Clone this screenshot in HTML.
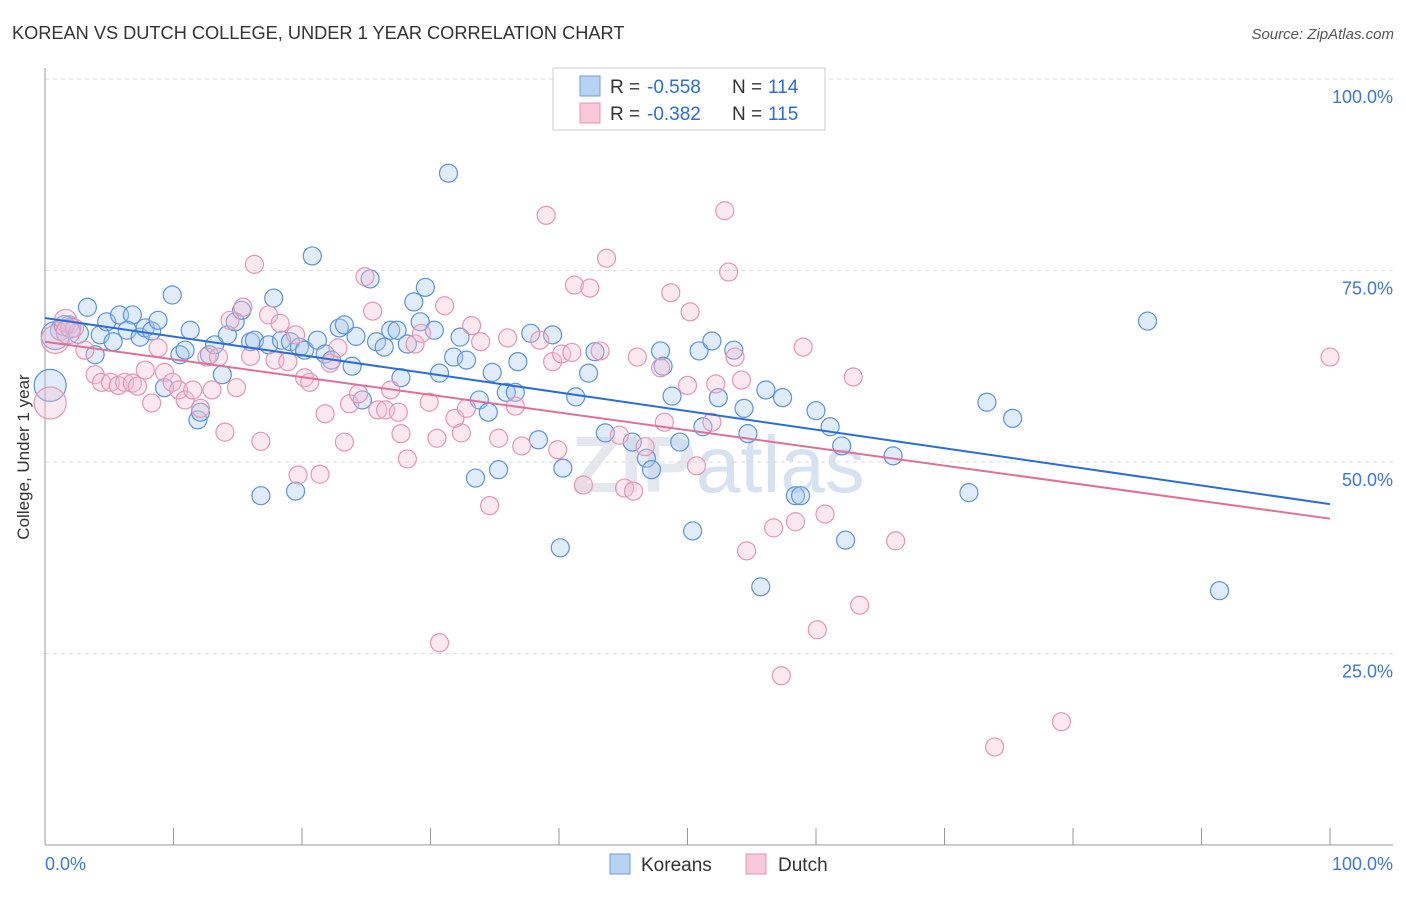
<!DOCTYPE html>
<html><head><meta charset="utf-8"><style>
body{margin:0;background:#fff;font-family:"Liberation Sans",sans-serif}
svg text{font-family:"Liberation Sans",sans-serif}
</style></head><body>
<svg width="1406" height="892" xmlns="http://www.w3.org/2000/svg">
<text x="12" y="39" font-size="18.2" fill="#333">KOREAN VS DUTCH COLLEGE, UNDER 1 YEAR CORRELATION CHART</text>
<text x="1394" y="39" font-size="15" fill="#555" font-style="italic" text-anchor="end">Source: ZipAtlas.com</text>
<text x="718" y="492" font-size="80" fill="#e4e8ee" text-anchor="middle" font-weight="bold">ZIP<tspan fill="#d6e2f2" font-weight="normal">atlas</tspan></text>
<g id="grid"></g>
<g id="axes"></g>
<g id="pts"></g>
<g id="lines"></g>
<text x="29" y="457" font-size="17" fill="#333" text-anchor="middle" transform="rotate(-90 29 457)">College, Under 1 year</text>
<g>
<rect x="553" y="68" width="272" height="62" fill="#fff" stroke="#ccc"/>
<rect x="580" y="76" width="20" height="20" fill="#b8d2f4" stroke="#6b9de0"/>
<rect x="580" y="103" width="20" height="20" fill="#f9c8d8" stroke="#e895b5"/>
<g font-size="19" fill="#333">
<text x="610" y="93">R =</text><text x="647" y="93" fill="#2a6dd9">-0.558</text><text x="732" y="93">N =</text><text x="768" y="93" fill="#2a6dd9">114</text>
</g>
<g font-size="19" fill="#333">
<text x="610" y="120">R =</text><text x="647" y="120" fill="#2a6dd9">-0.382</text><text x="732" y="120">N =</text><text x="768" y="120" fill="#2a6dd9">115</text>
</g>
</g>
<g>
<rect x="610" y="854" width="20" height="20" fill="#b8d2f4" stroke="#6b9de0"/>
<text x="641" y="871" font-size="19" fill="#333">Koreans</text>
<rect x="746" y="854" width="20" height="20" fill="#f9c8d8" stroke="#e895b5"/>
<text x="778" y="871" font-size="19" fill="#333">Dutch</text>
</g>
</svg>
<script>
const blueX=[0.4,1.2,1.9,3.3,4.3,4.8,5.3,5.8,6.8,6.4,7.4,7.8,8.3,8.8,3.9,9.3,9.9,10.5,10.9,11.3,11.9,12.1,12.8,13.2,13.8,14.2,14.8,15.3,16,16.3,16.8,17.4,17.8,18.4,19.1,19.5,19.8,20.2,20.8,21.2,21.8,22.3,22.9,23.3,23.9,24.2,24.7,25.3,25.8,26.4,26.9,27.4,27.7,28.2,28.7,29.2,29.6,30.3,30.7,31.4,31.8,32.3,32.8,33.5,33.8,34.5,34.8,35.3,35.9,36.6,36.8,37.8,38.4,39.5,40.1,40.3,41.3,42.3,42.8,43.6,45.7,46.8,47.2,47.9,48.1,48.8,49.4,50.4,50.9,51.2,51.9,52.4,53.6,54.4,54.7,55.7,56.1,57.4,58.4,58.8,60,61.1,62,62.3,66,71.9,73.3,75.3,85.8,91.4,0.8,2.0,1.5,2.6];
const blueY=[60,67.2,67.9,70.2,66.6,68.3,65.7,69.2,69.2,67.2,66.3,67.5,67.1,68.5,64,59.7,71.8,64,64.6,67.2,55.5,56.5,64,65.3,61.4,66.6,68.3,69.8,65.7,65.9,45.6,65.3,71.4,65.9,65.7,46.2,65,64.6,76.9,65.9,64.1,63.3,67.5,67.9,62.5,66.4,58.1,73.9,65.7,65,67.2,67.2,61,65.4,70.9,68.3,72.8,67.2,61.6,87.7,63.7,66.3,63.3,47.9,58.1,56.5,61.7,49,59.1,59.1,63.1,66.8,52.9,66.6,38.8,49.2,58.5,61.6,64.4,53.8,52.6,50.5,49,64.5,62.5,58.6,52.6,41,64.5,54.6,65.8,58.4,64.6,57,53.7,33.7,59.4,58.4,45.6,45.6,56.7,54.6,52.1,39.8,50.8,46,57.8,55.7,68.4,33.2,66.5,67.5,67.8,66.8];
const blueR=[16,10,9,9,9,9,9,9,9,9,9,9,9,9,9,9,9,9,9,9,9,9,9,9,9,9,9,9,9,9,9,9,9,9,9,9,9,9,9,9,9,9,9,9,9,9,9,9,9,9,9,9,9,9,9,9,9,9,9,9,9,9,9,9,9,9,9,9,9,9,9,9,9,9,9,9,9,9,9,9,9,9,9,9,9,9,9,9,9,9,9,9,9,9,9,9,9,9,9,9,9,9,9,9,9,9,9,9,9,9,14,10,10,10];
const pinkX=[0.4,0.8,1.6,2.3,3.1,3.9,4.4,5.1,5.7,6.2,6.8,7.2,7.8,8.3,8.8,9.3,9.9,10.4,10.9,11.5,12.1,12.6,13,13.5,14,14.4,14.9,15.4,16,16.3,16.8,17.4,17.9,18.3,18.9,19.5,19.7,20.2,20.6,21.4,21.8,22.2,22.8,23.3,23.7,24.4,24.9,25.5,25.9,26.5,26.9,27.5,27.7,28.2,28.8,29.3,29.9,30.5,31.1,30.7,31.9,32.4,32.8,33.2,33.9,34.6,35.3,36,36.6,37.1,38.5,39,39.5,39.9,40.2,41,41.2,41.9,42.4,43.2,43.7,44.7,45.1,45.8,46.1,46.7,47.9,48.2,48.7,50,50.2,50.7,51.9,52.2,52.9,53.2,53.7,54.2,54.6,56.7,57.3,58.4,59,60.1,60.7,62.9,63.4,66.2,73.9,79.1,100,1.8];
const pinkY=[57.7,66,68.5,67.5,64.6,61.4,60.4,60.4,60,60.4,60.3,59.9,62,57.7,64.9,61.7,60.4,59.4,58.1,59.4,57,63.7,59.4,63.7,53.9,68.5,59.7,70.2,63.8,75.8,52.7,69.2,63.3,68.1,63.1,66.6,48.3,61,60.4,48.4,56.3,62.9,64.9,52.6,57.6,58.9,74.2,69.7,56.8,56.8,59.4,56.5,53.7,50.4,65.4,66.8,57.8,53.1,70.4,26.4,55.7,53.8,57,67.8,65.7,44.3,53.1,66.2,57.3,52.1,65.9,82.2,63.1,51.6,64.1,64.3,73.1,47,72.7,64.5,76.6,53.5,46.6,46.2,63.7,52,62.3,55.2,72.1,60,69.6,49.5,55.2,60.2,82.8,74.8,63.7,60.7,38.4,41.4,22.1,42.2,65,28.1,43.2,61.1,31.3,39.7,12.8,16.1,63.7,67];
const pinkR=[16,14,11,9,9,9,9,9,9,9,9,9,9,9,9,9,9,9,9,9,9,9,9,9,9,9,9,9,9,9,9,9,9,9,9,9,9,9,9,9,9,9,9,9,9,9,9,9,9,9,9,9,9,9,9,9,9,9,9,9,9,9,9,9,9,9,9,9,9,9,9,9,9,9,9,9,9,9,9,9,9,9,9,9,9,9,9,9,9,9,9,9,9,9,9,9,9,9,9,9,9,9,9,9,9,9,9,9,9,9,9,12];
const blueTrend=[68.8,44.5];
const pinkTrend=[65.7,42.6];
const yTicks=[25,50,75,100];
const yTickLabels=["25.0%","50.0%","75.0%","100.0%"];
const xEndLabels=["0.0%","100.0%"];

const NS="http://www.w3.org/2000/svg";
const X0=45,X1=1330,Y0=845,Y100=79;
const sx=v=>X0+(X1-X0)*v/100;
const sy=v=>Y0-(Y0-Y100)*v/100;
function mk(tag,attrs,parent){const e=document.createElementNS(NS,tag);for(const k in attrs)e.setAttribute(k,attrs[k]);parent.appendChild(e);return e;}
const grid=document.getElementById('grid'),axes=document.getElementById('axes'),pts=document.getElementById('pts'),lines=document.getElementById('lines');
yTicks.forEach((t,i)=>{
 const l=mk('line',{x1:X0,x2:1393,y1:sy(t),y2:sy(t),stroke:'#ddd','stroke-dasharray':'4,4'},grid);
 
 
 const tx=mk('text',{x:1393,y:sy(t)+24,'font-size':18,fill:'#3b78d8','text-anchor':'end'},grid);
 tx.textContent=yTickLabels[i];
 
 
});
const ya=mk('line',{x1:X0,x2:X0,y1:68,y2:Y0,stroke:'#999'},axes);


const xa=mk('line',{x1:X0,x2:1393,y1:Y0,y2:Y0,stroke:'#999'},axes);


for(let k=0;k<=10;k++){
 const t=mk('line',{x1:sx(k*10),x2:sx(k*10),y1:828,y2:Y0,stroke:'#999'},axes);
 
 
}
[[0,'start',45],[100,'end',1393]].forEach((a,i)=>{
 const tx=mk('text',{x:a[2],y:870,'font-size':18,fill:'#3b78d8','text-anchor':a[1]},axes);
 tx.textContent=xEndLabels[i];
 
 
});
function drawPts(xs,ys,rs,fill,stroke,name){
 xs.forEach((x,i)=>{
  const c=mk('circle',{cx:sx(x),cy:sy(ys[i]),r:rs[i]||9,fill:fill,'fill-opacity':0.35,stroke:stroke,'stroke-width':1.2},pts);
  
  
 });
}
drawPts(blueX,blueY,blueR,'#a9c8f2','#5b93e0','korean-point');
drawPts(pinkX,pinkY,pinkR,'#f6bfd2','#e895b5','dutch-point');
const bl=mk('line',{x1:sx(0),y1:sy(blueTrend[0]),x2:sx(100),y2:sy(blueTrend[1]),stroke:'#2a6dd9','stroke-width':2},lines);


const pl=mk('line',{x1:sx(0),y1:sy(pinkTrend[0]),x2:sx(100),y2:sy(pinkTrend[1]),stroke:'#e0709a','stroke-width':2},lines);


</script>
</body></html>
